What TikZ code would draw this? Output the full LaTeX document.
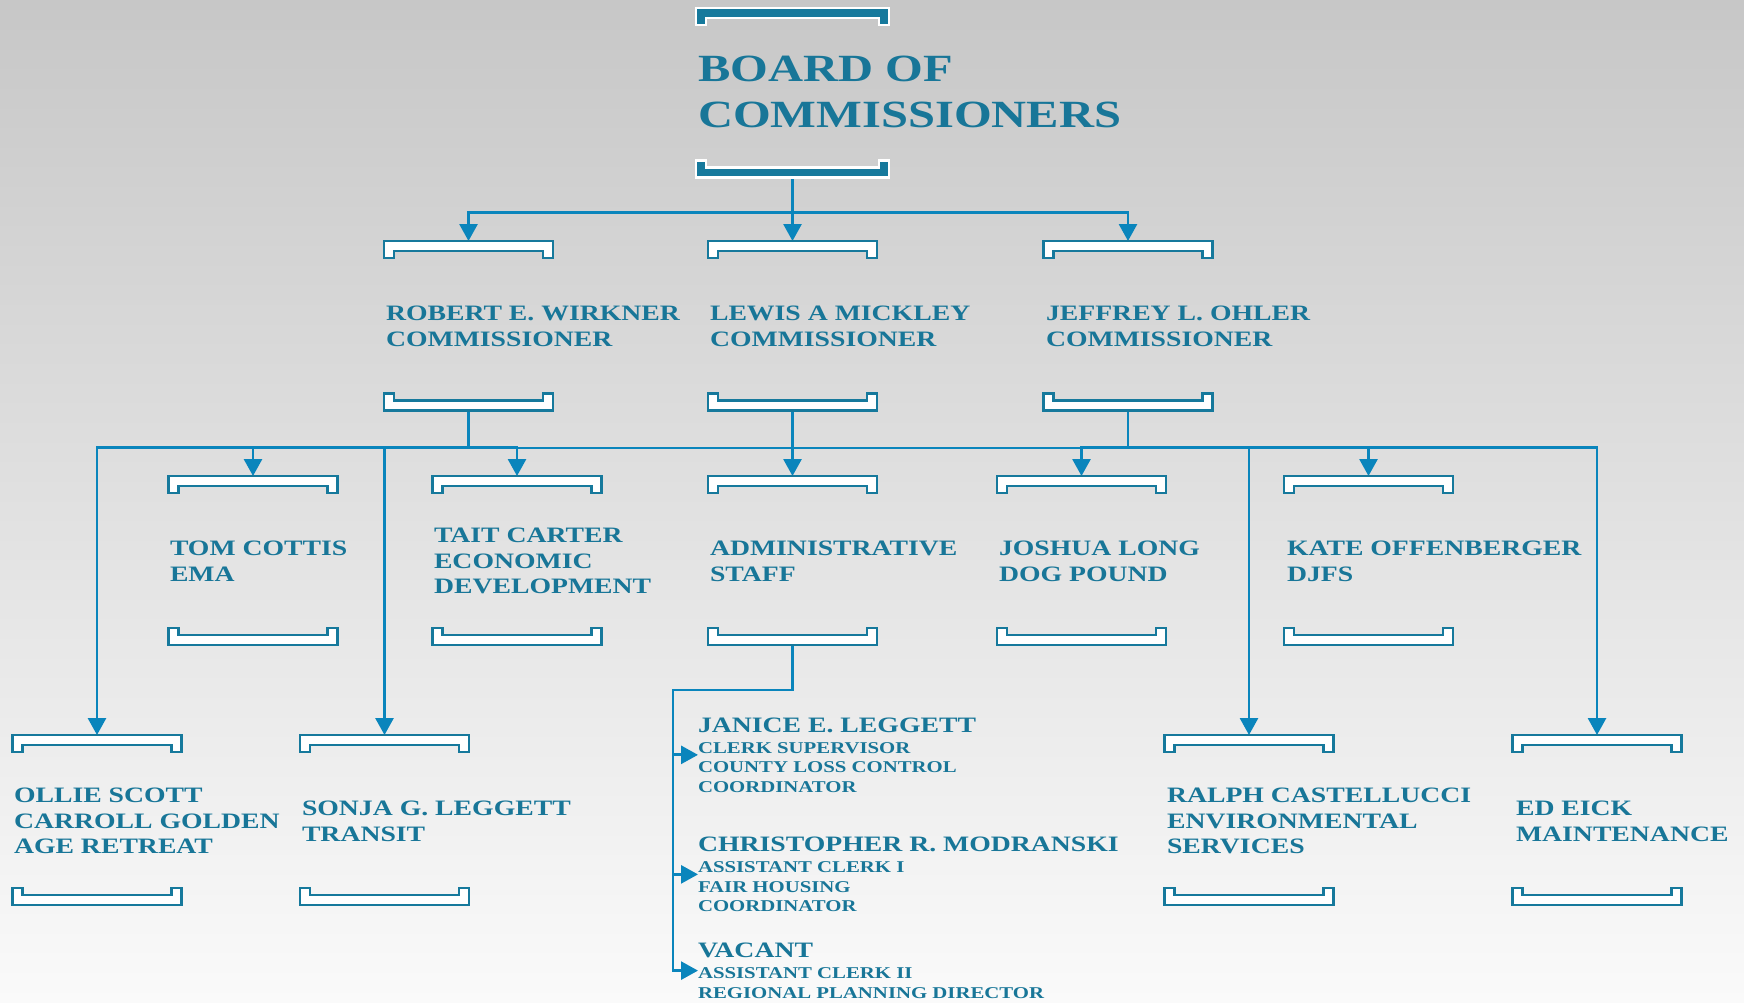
\documentclass[tikz,border=0pt]{standalone}
\usepackage{fontspec}
\newfontfamily\eng[FakeStretch=1.26]{Liberation Serif Bold}
\usetikzlibrary{arrows.meta,calc}
\definecolor{textc}{RGB}{24,118,152}
\definecolor{brk}{RGB}{22,121,156}
\definecolor{linec}{RGB}{10,133,188}
\definecolor{bgtop}{RGB}{199,199,199}
\definecolor{bgbot}{RGB}{250,250,250}
% bracket with legs down (top bracket)
\newcommand\upbk[2]{\path[#2] (#1.north west) -- (#1.north east) -- (#1.south east) -- ++(-10,0) -- ++(0,-7) -- ($(#1.south west)+(10,-7)$) -- ++(0,7) -- (#1.south west) -- cycle;}
% bracket with legs up (bottom bracket)
\newcommand\dnbk[2]{\path[#2] (#1.south west) -- (#1.south east) -- (#1.north east) -- ++(-10,0) -- ++(0,7) -- ($(#1.north west)+(10,7)$) -- ++(0,-7) -- (#1.north west) -- cycle;}
\tikzset{
 bk/.style={minimum width=169pt,minimum height=17pt,inner sep=0pt,outer sep=0pt},
 bigbk/.style={minimum width=193pt,minimum height=17pt,inner sep=0pt,outer sep=0pt},
 smallbk/.style={fill=white,draw=brk,line width=2.4pt},
 boardbk/.style={fill=brk,draw=white,line width=2.2pt},
 conn/.style={draw=linec,line width=2.8pt,-{Triangle[length=17pt,width=18pt]}},
 bus/.style={draw=linec,line width=2.8pt,line cap=rect},
 txt/.style={anchor=west,inner sep=0pt,outer sep=0pt,align=left,text=textc,font=\eng\fontsize{22}{25.7}\selectfont},
 sub/.style={anchor=north west,inner sep=0pt,outer sep=0pt,align=left,text=textc,font=\eng\fontsize{16.5}{19.5}\selectfont},
 big/.style={anchor=west,inner sep=0pt,outer sep=0pt,align=left,text=textc,font=\eng\fontsize{38.5}{46}\selectfont},
}
\newcommand\nm[1]{{\fontsize{22}{21}\selectfont #1}}
\begin{document}
\begin{tikzpicture}[x=1pt,y=-1pt]
\useasboundingbox (0,0) rectangle (1744,1002);
\shade[top color=bgtop,bottom color=bgbot] (0,0) rectangle (1744,1002);

% bracket anchors
\node[bigbk] (bT) at (792.5,16.5) {};
\node[bigbk] (bB) at (792.5,169) {};
\node[bk] (wirT) at (468.5,249.5) {}; \node[bk] (wirB) at (468.5,402) {};
\node[bk] (micT) at (792.5,249.5) {}; \node[bk] (micB) at (792.5,402) {};
\node[bk] (ohlT) at (1128,249.5) {};  \node[bk] (ohlB) at (1128,402) {};
\node[bk] (tomT) at (253,484.5) {};   \node[bk] (tomB) at (253,636.5) {};
\node[bk] (taiT) at (517,484.5) {};   \node[bk] (taiB) at (517,636.5) {};
\node[bk] (admT) at (792.5,484.5) {}; \node[bk] (admB) at (792.5,636.5) {};
\node[bk] (josT) at (1081.5,484.5) {};\node[bk] (josB) at (1081.5,636.5) {};
\node[bk] (katT) at (1368.5,484.5) {};\node[bk] (katB) at (1368.5,636.5) {};
\node[bk] (ollT) at (97,743.5) {};    \node[bk] (ollB) at (97,896.5) {};
\node[bk] (sonT) at (384.5,743.5) {}; \node[bk] (sonB) at (384.5,896.5) {};
\node[bk] (ralT) at (1249,743.5) {};  \node[bk] (ralB) at (1249,896.5) {};
\node[bk] (edkT) at (1597,743.5) {};  \node[bk] (edkB) at (1597,896.5) {};

% texts
\node[big] (board) at (698,92) {BOARD OF\\COMMISSIONERS};
\node[txt] (wir) at (386,326) {ROBERT E. WIRKNER\\COMMISSIONER};
\node[txt] (mic) at (710,326) {LEWIS A MICKLEY\\COMMISSIONER};
\node[txt] (ohl) at (1046,326) {JEFFREY L. OHLER\\COMMISSIONER};
\node[txt] (tom) at (170,561) {TOM COTTIS\\EMA};
\node[txt] (tai) at (434,561) {TAIT CARTER\\ECONOMIC\\DEVELOPMENT};
\node[txt] (adm) at (710,561) {ADMINISTRATIVE\\STAFF};
\node[txt] (jos) at (999,561) {JOSHUA LONG\\DOG POUND};
\node[txt] (kat) at (1287,561) {KATE OFFENBERGER\\DJFS};
\node[txt] (oll) at (14,821) {OLLIE SCOTT\\CARROLL GOLDEN\\AGE RETREAT};
\node[txt] (son) at (302,821) {SONJA G. LEGGETT\\TRANSIT};
\node[txt] (ral) at (1167,821) {RALPH CASTELLUCCI\\ENVIRONMENTAL\\SERVICES};
\node[txt] (edk) at (1516,821) {ED EICK\\MAINTENANCE};
\node[sub] (jan) at (698,717.5) {\nm{JANICE E. LEGGETT}\\[1.5pt]CLERK SUPERVISOR\\COUNTY LOSS CONTROL\\COORDINATOR};
\node[sub] (chr) at (698,837) {\nm{CHRISTOPHER R. MODRANSKI}\\[1.5pt]ASSISTANT CLERK I\\FAIR HOUSING\\COORDINATOR};
\node[sub] (vac) at (698,943) {\nm{VACANT}\\[1.5pt]ASSISTANT CLERK II\\REGIONAL PLANNING DIRECTOR};

% connectors
\coordinate (busy) at (0,448);
\coordinate (spine) at (673,690);
\draw[bus] (ollT.north |- busy) -- (edkT.north |- busy);
\draw[conn] (bB.south) -- ++(0,35) -| (wirT.north);
\draw[conn] (bB.south) -- (micT.north);
\draw[conn] (bB.south) -- ++(0,35) -| (ohlT.north);
\foreach \c in {ollT,tomT,sonT,taiT} \draw[conn] (wirB.south) -- ++(0,37) -| (\c.north);
\draw[conn] (micB.south) -- (admT.north);
\foreach \c in {josT,katT,ralT,edkT} \draw[conn] (ohlB.south) -- ++(0,37) -| (\c.north);
\foreach \c in {jan,chr,vac} \draw[conn] (admB.south) |- (spine) |- (\c.west);

% brackets
\upbk{bT}{boardbk}
\dnbk{bB}{boardbk}
\foreach \n in {wirT,micT,ohlT,tomT,taiT,admT,josT,katT,ollT,sonT,ralT,edkT} {\upbk{\n}{smallbk}}
\foreach \n in {wirB,micB,ohlB,tomB,taiB,admB,josB,katB,ollB,sonB,ralB,edkB} {\dnbk{\n}{smallbk}}
\end{tikzpicture}
\end{document}
